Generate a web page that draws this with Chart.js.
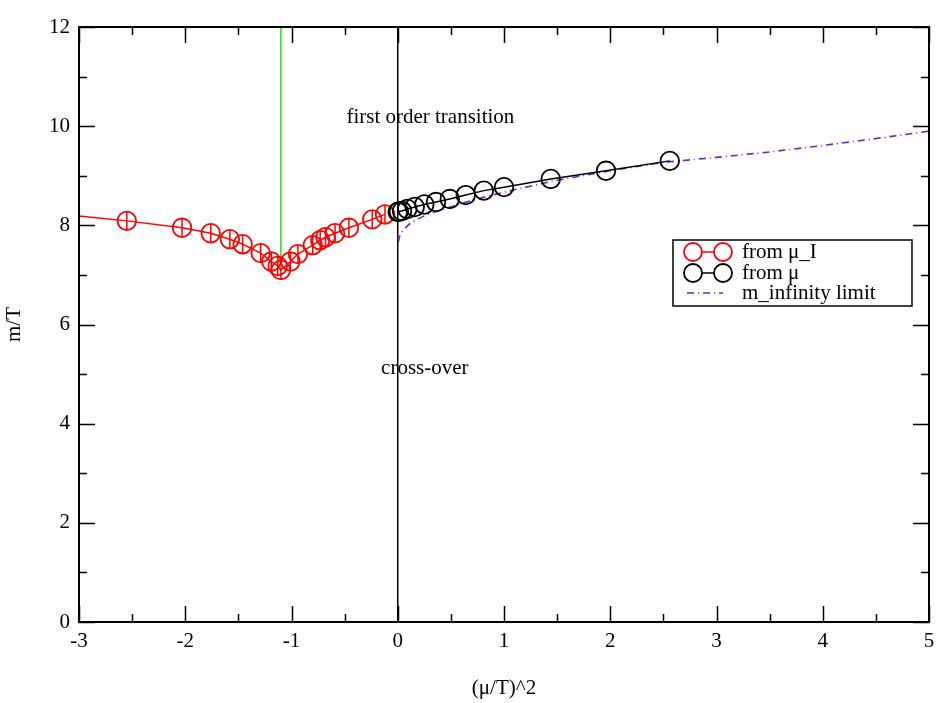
<!DOCTYPE html>
<html>
<head>
<meta charset="utf-8">
<script src="https://cdn.jsdelivr.net/npm/chart.js@4.4.0/dist/chart.umd.min.js"></script>
<style>
  html, body { margin: 0; padding: 0; background: #fff; }
  #box { width: 936px; height: 703px; }
</style>
</head>
<body>
<div id="box"><canvas id="myChart" width="936" height="703"></canvas></div>
<script>
// values
const muIX = [-3.3, -2.55, -2.03, -1.76, -1.58, -1.46, -1.29, -1.19, -1.13, -1.10, -1.01, -0.94, -0.80, -0.73, -0.68, -0.59, -0.46, -0.24, -0.12];
const muIY = [8.25, 8.09, 7.95, 7.84, 7.72, 7.62, 7.44, 7.27, 7.18, 7.10, 7.27, 7.42, 7.60, 7.70, 7.76, 7.84, 7.95, 8.12, 8.22];
const muIErr = 0.18;

const muX = [0, 0.01, 0.04, 0.09, 0.16, 0.25, 0.36, 0.49, 0.64, 0.81, 1.0, 1.44, 1.96, 2.56];
const muY = [8.27, 8.28, 8.29, 8.33, 8.37, 8.42, 8.47, 8.53, 8.61, 8.70, 8.77, 8.935, 9.10, 9.30];

const limX = [0.005, 0.02, 0.05, 0.1, 0.17, 0.3, 0.45, 0.6, 0.8, 1.0, 1.5, 2.0, 2.5, 3.0, 3.5, 4.0, 4.5, 5.0];
const limY = [7.66, 7.80, 7.90, 8.01, 8.11, 8.24, 8.34, 8.44, 8.56, 8.67, 8.91, 9.10, 9.27, 9.37, 9.48, 9.61, 9.75, 9.90];

const transX = [-1.1, -1.1];
const transY = [12, 7.1];
const zeroX = [0, 0];
const zeroY = [0, 12];

const notes = [
  { text: 'first order transition', x: 0.307, y: 10.17 },
  { text: 'cross-over', x: 0.255, y: 5.12 }
];

const serif = "'Liberation Serif', 'Times New Roman', serif";
const indigo = 'rgb(114,33,188)';

function pts(xs, ys) {
  return xs.map((x, i) => ({ x: x, y: ys[i] }));
}

// frame, inward ticks, error bars, notes and legend
const decor = {
  id: 'decor',
  beforeDatasetsDraw(chart) {
    const c = chart.ctx, xs = chart.scales.x, ys = chart.scales.y, a = chart.chartArea;
    c.save();
    c.beginPath();
    c.rect(a.left, a.top, a.right - a.left, a.bottom - a.top);
    c.clip();
    c.strokeStyle = '#ff0000';
    c.lineWidth = 1.5;
    muIX.forEach((x, i) => {
      const px = xs.getPixelForValue(x);
      c.beginPath();
      c.moveTo(px, ys.getPixelForValue(muIY[i] - muIErr));
      c.lineTo(px, ys.getPixelForValue(muIY[i] + muIErr));
      c.stroke();
    });
    c.restore();
  },
  afterDraw(chart) {
    const c = chart.ctx, xs = chart.scales.x, ys = chart.scales.y, a = chart.chartArea;
    c.save();
    c.strokeStyle = '#000';
    c.lineWidth = 2;
    c.strokeRect(a.left, a.top, a.right - a.left, a.bottom - a.top);

    c.lineWidth = 1.5;
    for (let v = -3; v <= 5.001; v += 0.5) {
      const px = Math.round(xs.getPixelForValue(v)) + 0.5;
      const len = Math.abs(v - Math.round(v)) < 0.01 ? 16 : 8;
      c.beginPath();
      c.moveTo(px, a.bottom); c.lineTo(px, a.bottom - len);
      c.moveTo(px, a.top); c.lineTo(px, a.top + len);
      c.stroke();
    }
    for (let v = 0; v <= 12; v += 1) {
      const py = Math.round(ys.getPixelForValue(v)) + 0.5;
      const len = v % 2 === 0 ? 16 : 8;
      c.beginPath();
      c.moveTo(a.left, py); c.lineTo(a.left + len, py);
      c.moveTo(a.right, py); c.lineTo(a.right - len, py);
      c.stroke();
    }

    c.fillStyle = '#000';
    c.font = '21px ' + serif;
    c.textAlign = 'center';
    c.textBaseline = 'middle';
    notes.forEach(n => {
      c.fillText(n.text, xs.getPixelForValue(n.x), ys.getPixelForValue(n.y));
    });

    // legend box
    const lx = 673, ly = 240, lw = 239, lh = 66;
    c.fillStyle = '#fff';
    c.fillRect(lx, ly, lw, lh);
    c.lineWidth = 1.5;
    c.strokeStyle = '#000';
    c.strokeRect(lx, ly, lw, lh);
    const rows = [252, 273, 293];
    const ds = chart.data.datasets;
    [1, 0, 2].forEach((di, r) => {
      const d = ds[di], y = rows[r];
      c.strokeStyle = d.borderColor;
      c.lineWidth = 1.5;
      if (di === 2) {
        c.setLineDash(d.borderDash);
        c.beginPath(); c.moveTo(687, y); c.lineTo(723, y); c.stroke();
        c.setLineDash([]);
      } else {
        c.beginPath(); c.moveTo(702, y); c.lineTo(714, y); c.stroke();
        c.lineWidth = 1.8;
        [693, 723].forEach(cx => {
          c.beginPath(); c.arc(cx, y, 9, 0, Math.PI * 2); c.stroke();
        });
      }
      c.fillStyle = '#000';
      c.textAlign = 'left';
      c.fillText(d.label, 742, y);
    });
    c.restore();
  }
};

const ctx = document.getElementById('myChart');

const myChart = new Chart(ctx, {
  type: 'scatter',
  data: {
    datasets: [
      {
        label: 'from \u03bc',
        data: pts(muX, muY),
        showLine: true,
        borderColor: '#000',
        backgroundColor: 'rgba(0,0,0,0)',
        borderWidth: 1.5,
        pointRadius: 9.3,
        pointBorderWidth: 1.8,
        pointBorderColor: '#000'
      },
      {
        label: 'from \u03bc_I',
        data: pts(muIX, muIY),
        showLine: true,
        borderColor: '#ff0000',
        backgroundColor: 'rgba(0,0,0,0)',
        borderWidth: 1.5,
        pointRadius: 9.3,
        pointBorderWidth: 1.8,
        pointBorderColor: '#ff0000'
      },
      {
        label: 'm_infinity limit',
        data: pts(limX, limY),
        showLine: true,
        borderColor: indigo,
        borderWidth: 1.6,
        borderDash: [7, 4, 1, 4],
        pointRadius: 0
      },
      {
        label: 'transition',
        data: pts(transX, transY),
        showLine: true,
        borderColor: '#22e022',
        borderWidth: 1.5,
        pointRadius: 0
      },
      {
        label: 'zero',
        data: pts(zeroX, zeroY),
        showLine: true,
        borderColor: '#000',
        borderWidth: 1.5,
        pointRadius: 0
      }
    ]
  },
  options: {
    responsive: false,
    animation: false,
    devicePixelRatio: 1,
    layout: {
      autoPadding: false,
      padding: { top: 27, right: 7, left: 0, bottom: 0 }
    },
    plugins: {
      legend: { display: false },
      tooltip: { enabled: false }
    },
    scales: {
      x: {
        type: 'linear',
        min: -3,
        max: 5,
        grid: { display: false, drawTicks: false },
        border: { display: false },
        ticks: {
          stepSize: 1,
          padding: 7,
          color: '#000',
          font: { family: serif, size: 21 }
        },
        title: {
          display: true,
          text: '(\u03bc/T)^2',
          color: '#000',
          font: { family: serif, size: 21 },
          padding: { top: 0, bottom: 2 }
        },
        afterFit(scale) {
          scale.height = 81;
          scale.paddingLeft = 0;
          scale.paddingRight = 0;
        }
      },
      y: {
        type: 'linear',
        min: 0,
        max: 12,
        grid: { display: false, drawTicks: false },
        border: { display: false },
        ticks: {
          stepSize: 2,
          padding: 9,
          color: '#000',
          font: { family: serif, size: 21 }
        },
        title: {
          display: true,
          text: 'm/T',
          color: '#000',
          font: { family: serif, size: 21 },
          padding: { top: 2, bottom: 0 }
        },
        afterFit(scale) {
          scale.width = 79;
          scale.paddingTop = 0;
          scale.paddingBottom = 0;
        }
      }
    }
  },
  plugins: [decor]
});
</script>
</body>
</html>
